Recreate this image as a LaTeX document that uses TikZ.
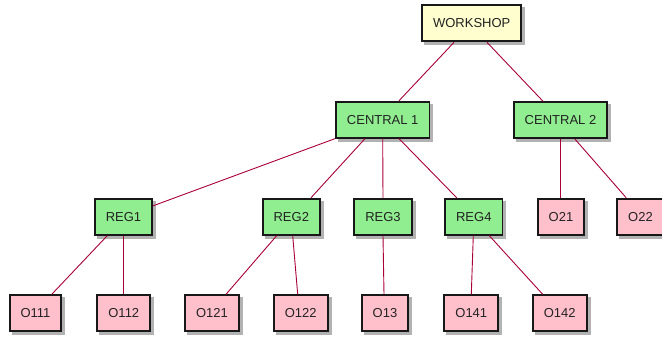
\documentclass[tikz,border=0pt]{standalone}
\usepackage{fontspec}
\setmainfont{Liberation Sans}

\definecolor{topfill}{HTML}{FEFECE}
\definecolor{midfill}{HTML}{90EE90}
\definecolor{leaffill}{HTML}{FFC0CB}
\definecolor{edgecol}{HTML}{A80036}
\definecolor{boxline}{HTML}{181818}
\definecolor{boxtext}{HTML}{222222}

\tikzset{
  box/.style={draw=boxline, line width=1.9pt, minimum height=36pt, inner xsep=11pt,
    text=boxtext, font=\fontsize{13}{15}\selectfont,
    preaction={fill=black!30, draw=black!30, transform canvas={xshift=3pt, yshift=-3pt}}},
  topbox/.style={box, fill=topfill},
  midbox/.style={box, fill=midfill},
  leafbox/.style={box, fill=leaffill},
  link/.style={draw=edgecol, line width=0.9pt}
}

\begin{document}
\begin{tikzpicture}[x=1pt, y=-1pt]

    \useasboundingbox (0,0) rectangle (662,337);

    % these are the boxes
    \node[topbox] (ws) at (471.7,23.4) {WORKSHOP};

    \node[midbox] (c1) at (382.7,119.7) {CENTRAL 1};
    \node[midbox] (c2) at (560.5,120.2) {CENTRAL 2};

    \node[midbox] (reg1) at (123.5,216.7) {REG1};
    \node[midbox] (reg2) at (291.3,216.7) {REG2};
    \node[midbox] (reg3) at (383,216.7) {REG3};
    \node[midbox] (reg4) at (473.8,216.7) {REG4};
    \node[leafbox] (o21) at (561,216.7) {O21};
    \node[leafbox] (o22) at (640.5,216.7) {O22};

    \node[leafbox] (o111) at (35.5,313.3) {O111};
    \node[leafbox] (o112) at (123.8,313.3) {O112};
    \node[leafbox] (o121) at (212,313.3) {O121};
    \node[leafbox] (o122) at (300.7,313.3) {O122};
    \node[leafbox] (o13) at (385,313.3) {O13};
    \node[leafbox] (o141) at (471.3,313.3) {O141};
    \node[leafbox] (o142) at (559.7,313.3) {O142};

    % these are the links
    \draw[link] ([xshift=-17.7pt]ws.south) -- ([xshift=16.3pt]c1.north);
    \draw[link] ([xshift=15.3pt]ws.south) -- ([xshift=-17.5pt]c2.north);

    \draw[link] (c1.south west) -- (reg1);
    \draw[link] ([xshift=-17.7pt]c1.south) -- ([xshift=19.7pt]reg2.north);
    \draw[link] (c1.south) -- (reg3.north);
    \draw[link] ([xshift=16.3pt]c1.south) -- ([xshift=-17.1pt]reg4.north);

    \draw[link] (c2.south) -- (c2.south |- o21.north);
    \draw[link] ([xshift=14.5pt]c2.south) -- ([xshift=-14.3pt]o22.north);

    \draw[link] ([xshift=-16.2pt]reg1.south) -- ([xshift=16.2pt]o111.north);
    \draw[link] (reg1.south) -- (reg1.south |- o112.north);
    \draw[link] ([xshift=-14.6pt]reg2.south) -- ([xshift=14pt]o121.north);
    \draw[link] ([xshift=1.4pt]reg2.south) -- ([xshift=-3pt]o122.north);
    \draw[link] (reg3.south) -- ([xshift=-1pt]o13.north);
    \draw[link] ([xshift=-0.5pt]reg4.south) -- (o141.north);
    \draw[link] ([xshift=15.5pt]reg4.south) -- ([xshift=-17pt]o142.north);

\end{tikzpicture}
\end{document}
